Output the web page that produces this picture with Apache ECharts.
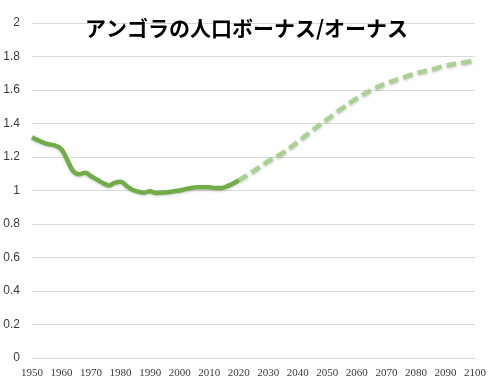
<!DOCTYPE html>
<html><head><meta charset="utf-8">
<script src="https://cdn.jsdelivr.net/npm/echarts@6/dist/echarts.min.js"></script>
<style>html,body{margin:0;padding:0;background:#fff}#c{width:493px;height:384px}</style>
</head><body><div id="c"></div>
<script>
const titleText = 'アンゴラの人口ボーナス/オーナス';
const histYears = [1950,1952,1954,1956,1958,1960,1962,1964,1966,1968,1970,1972,1974,1976,1978,1980,1982,1984,1986,1988,1990,1992,1994,1996,1998,2000,2002,2004,2006,2008,2010,2012,2014,2016,2018,2020];
const histValues = [1.318,1.300,1.285,1.275,1.267,1.245,1.180,1.115,1.097,1.106,1.085,1.065,1.045,1.030,1.045,1.052,1.028,1.005,0.993,0.987,0.995,0.985,0.987,0.990,0.995,1.000,1.008,1.015,1.020,1.020,1.019,1.015,1.015,1.025,1.040,1.060];
const projYears = [2020,2025,2030,2035,2040,2045,2050,2055,2060,2065,2070,2075,2080,2085,2090,2095,2100];
const projValues = [1.060,1.115,1.175,1.225,1.290,1.360,1.425,1.490,1.550,1.600,1.640,1.670,1.700,1.720,1.745,1.760,1.775];
const yTicks = [0,0.2,0.4,0.6,0.8,1,1.2,1.4,1.6,1.8,2];

const chart = echarts.init(document.getElementById('c'));
chart.setOption({
  animation: false,
  title: {
    text: titleText, left: 'center', top: 13,
    textStyle: {fontFamily: 'Noto Sans CJK JP', fontWeight: 'bold', fontSize: 21, color: '#000'}
  },
  grid: {left: 32, right: 18, top: 23, bottom: 26, containLabel: false},
  xAxis: {
    type: 'value', min: 1950, max: 2100, interval: 10,
    axisLine: {show: false}, axisTick: {show: false}, splitLine: {show: false},
    axisLabel: {fontFamily: 'Liberation Sans Narrow', fontSize: 11, color: '#3a3a3a', margin: 10, formatter: v => String(v)}
  },
  yAxis: {
    type: 'value', min: 0, max: 2, interval: 0.2,
    axisLine: {show: false}, axisTick: {show: false},
    splitLine: {lineStyle: {color: '#d9d9d9', width: 1}},
    axisLabel: {fontFamily: 'Liberation Sans', fontSize: 12, color: '#3a3a3a', margin: 12,
      formatter: v => { const t = yTicks.find(x => Math.abs(x - v) < 1e-9); return String(+(t ?? v).toFixed(1)); }}
  },
  series: [
    {
      type: 'line', smooth: 0.4, showSymbol: false,
      data: projYears.map((y, i) => [y, projValues[i]]),
      lineStyle: {color: '#a9d18e', width: 4.5, type: [10, 5], shadowColor: 'rgba(0,0,0,0.25)', shadowBlur: 3, shadowOffsetY: 1, opacity: 0.95}
    },
    {
      type: 'line', smooth: 0.4, showSymbol: false,
      data: histYears.map((y, i) => [y, histValues[i]]),
      lineStyle: {color: '#70ad47', width: 4.5, shadowColor: 'rgba(0,0,0,0.2)', shadowBlur: 3, shadowOffsetY: 1}
    }
  ]
});
</script></body></html>
